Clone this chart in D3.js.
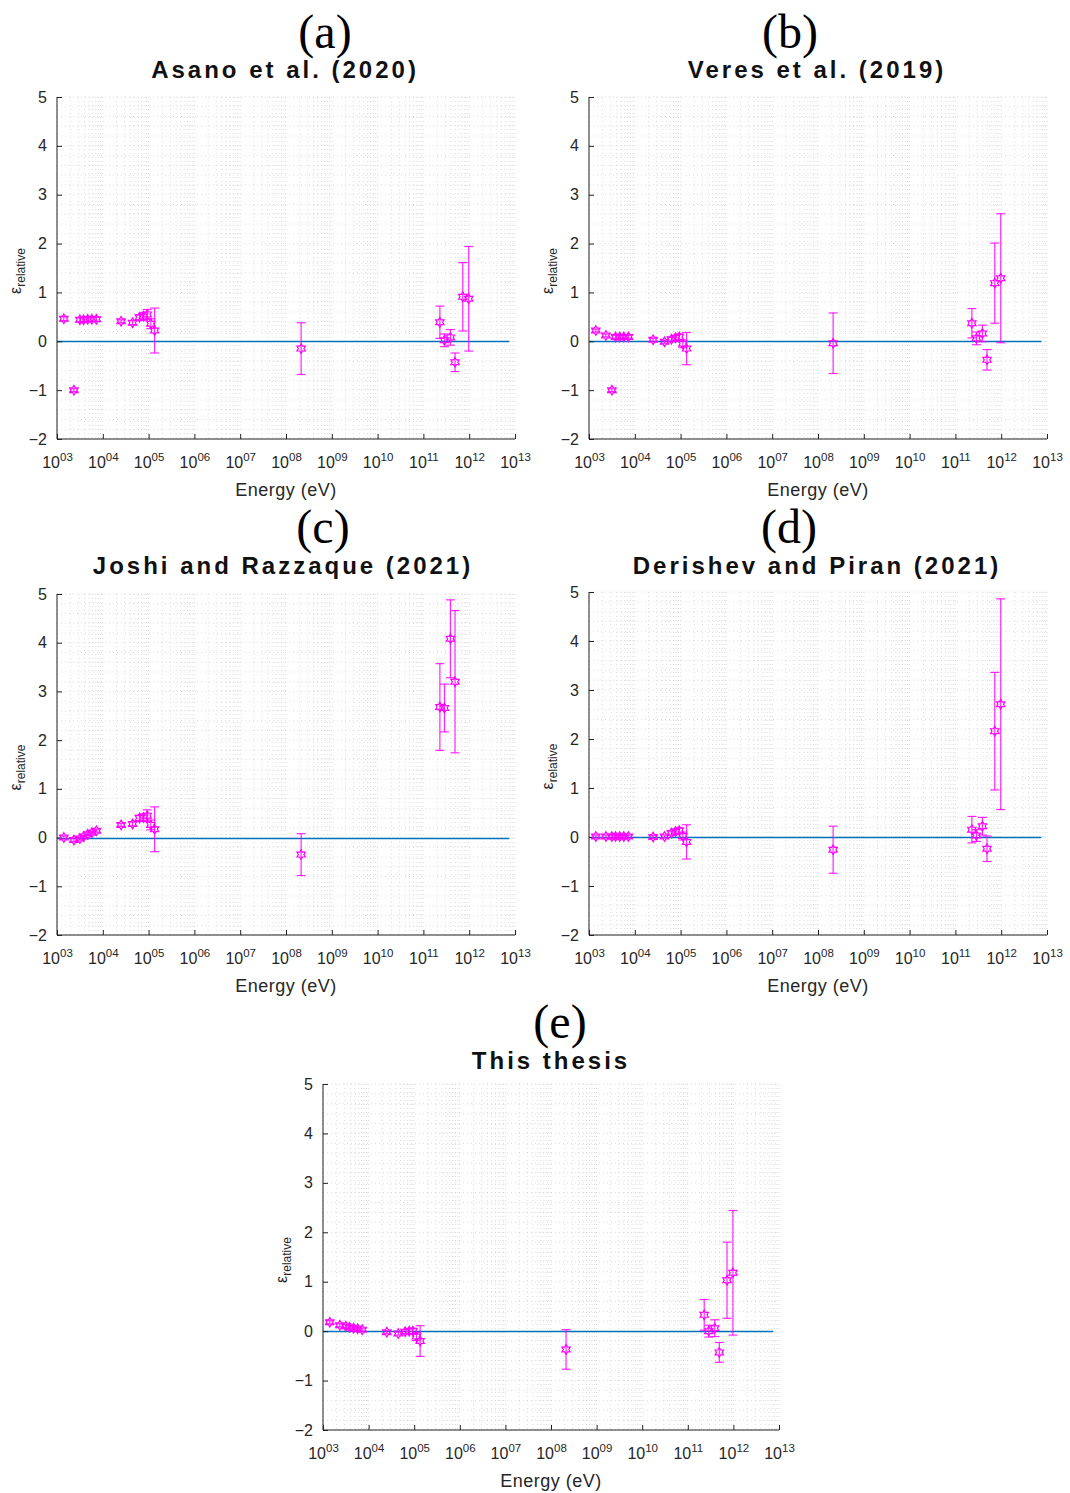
<!DOCTYPE html>
<html>
<head>
<meta charset="utf-8">
<script src="https://cdn.jsdelivr.net/npm/d3@7"></script>
<style>
  html, body { margin: 0; padding: 0; background: #fff; }
  svg { display: block; }
</style>
</head>
<body>
<svg id="fig" width="1070" height="1493"></svg>
<script>
// Photon energies of the observed points (eV)
const energies = [1.41e3, 2.34e3, 3.16e3, 3.80e3, 4.68e3, 5.75e3, 7.24e3,
  2.51e4, 4.47e4, 6.31e4, 7.76e4, 9.33e4, 1.12e5, 1.35e5,
  2.14e8,
  2.29e11, 2.88e11, 3.89e11, 4.90e11, 7.24e11, 9.77e11];

// Relative error of each model, with its symmetric uncertainty
const epsAsano = [0.46, -1.00, 0.44, 0.44, 0.45, 0.45, 0.45,
  0.41, 0.38, 0.49, 0.51, 0.55, 0.36, 0.22,
  -0.15,
  0.39, 0.02, 0.08, -0.43, 0.91, 0.87];
const errAsano = [0.04, 0.03, 0.04, 0.04, 0.04, 0.04, 0.04,
  0.03, 0.04, 0.05, 0.08, 0.10, 0.10, 0.46,
  0.53,
  0.33, 0.13, 0.16, 0.19, 0.70, 1.07];

const epsVeres = [0.22, 0.12, -1.00, 0.09, 0.09, 0.09, 0.09,
  0.03, -0.01, 0.04, 0.07, 0.09, -0.05, -0.15,
  -0.04,
  0.37, 0.06, 0.16, -0.38, 1.19, 1.29];
const errVeres = [0.03, 0.03, 0.03, 0.03, 0.03, 0.03, 0.03,
  0.03, 0.03, 0.04, 0.05, 0.06, 0.08, 0.33,
  0.62,
  0.30, 0.13, 0.17, 0.21, 0.82, 1.32];

const epsJoshi = [0.00, -0.05, -0.02, 0.02, 0.07, 0.10, 0.14,
  0.26, 0.28, 0.40, 0.41, 0.45, 0.26, 0.17,
  -0.35,
  2.68, 2.66, 4.08, 3.20, null, null];
const errJoshi = [0.03, 0.03, 0.03, 0.03, 0.03, 0.03, 0.03,
  0.03, 0.04, 0.06, 0.08, 0.12, 0.10, 0.46,
  0.43,
  0.89, 0.49, 0.80, 1.46, null, null];

const epsDerishev = [0.01, 0.01, 0.01, 0.01, 0.01, 0.01, 0.01,
  0.00, 0.01, 0.08, 0.11, 0.13, 0.02, -0.10,
  -0.26,
  0.15, 0.03, 0.22, -0.24, 2.16, 2.71];
const errDerishev = [0.03, 0.03, 0.03, 0.03, 0.03, 0.03, 0.03,
  0.03, 0.03, 0.04, 0.05, 0.06, 0.08, 0.35,
  0.48,
  0.27, 0.12, 0.18, 0.26, 1.20, 2.15];

const epsThesis = [0.18, 0.12, 0.10, 0.08, 0.06, 0.05, 0.03,
  -0.02, -0.05, -0.01, 0.00, 0.00, -0.11, -0.20,
  -0.37,
  0.33, 0.00, 0.06, -0.43, 1.03, 1.18];
const errThesis = [0.03, 0.03, 0.03, 0.03, 0.03, 0.03, 0.03,
  0.03, 0.03, 0.04, 0.05, 0.06, 0.08, 0.31,
  0.40,
  0.31, 0.12, 0.17, 0.20, 0.77, 1.26];

// Axis ticks
const xTicks = [1e3, 1e4, 1e5, 1e6, 1e7, 1e8, 1e9, 1e10, 1e11, 1e12, 1e13];
const yTicks = [-2, -1, 0, 1, 2, 3, 4, 5];
const xDomain = [1e3, 1e13];
const yDomain = [-2, 5];

// Panels: letter, title, data and placement of the plot box
const panels = [
  { letter: "(a)", title: "Asano et al. (2020)", eps: epsAsano, err: errAsano,
    box: [57, 97, 515, 439], letterX: 325, letterY: 48, titleX: 285, titleY: 78 },
  { letter: "(b)", title: "Veres et al. (2019)", eps: epsVeres, err: errVeres,
    box: [589, 97, 1047, 439], letterX: 790, letterY: 48, titleX: 817, titleY: 78 },
  { letter: "(c)", title: "Joshi and Razzaque (2021)", eps: epsJoshi, err: errJoshi,
    box: [57, 594, 515, 935], letterX: 323, letterY: 543, titleX: 283, titleY: 574 },
  { letter: "(d)", title: "Derishev and Piran (2021)", eps: epsDerishev, err: errDerishev,
    box: [589, 592, 1047, 935], letterX: 789, letterY: 543, titleX: 817, titleY: 574 },
  { letter: "(e)", title: "This thesis", eps: epsThesis, err: errThesis,
    box: [323, 1084, 779, 1430], letterX: 560, letterY: 1038, titleX: 551, titleY: 1069 }
];

const svg = d3.select("#fig");
const MAG = "#ff00ff";

// Six-pointed star outline centred on (0,0)
function hexagram(r) {
  const ri = r / Math.sqrt(3);
  const pts = [];
  for (let i = 0; i < 12; i++) {
    const a = -Math.PI / 2 + i * Math.PI / 6;
    const rr = i % 2 === 0 ? r : ri;
    pts.push([rr * Math.cos(a), rr * Math.sin(a)]);
  }
  return "M" + pts.map(p => p[0].toFixed(2) + "," + p[1].toFixed(2)).join("L") + "Z";
}

panels.forEach(p => {
  const [x0, y0, x1, y1] = p.box;
  const x = d3.scaleLog().domain(xDomain).range([x0, x1]);
  const y = d3.scaleLinear().domain(yDomain).range([y1, y0]);
  const g = svg.append("g");

  // minor + major dotted grid
  const grid = g.append("g").attr("stroke", "#c4c4c4").attr("stroke-width", 0.6)
    .attr("stroke-dasharray", "1,3");
  const vLines = [];
  for (let d = 3; d < 13; d++) {
    for (let k = 1; k < 10; k++) vLines.push(k * Math.pow(10, d));
  }
  vLines.push(1e13);
  grid.selectAll("line.v").data(vLines).join("line")
    .attr("x1", d => x(d)).attr("x2", d => x(d))
    .attr("y1", y0).attr("y2", y1);
  const hLines = d3.range(-2, 5.001, 0.2);
  grid.selectAll("line.h").data(hLines).join("line")
    .attr("x1", x0).attr("x2", x1)
    .attr("y1", d => y(d)).attr("y2", d => y(d));

  // zero reference line, snapped to the pixel grid
  const yz = Math.round(y(0)) + 0.5;
  g.append("line")
    .attr("x1", x(1e3)).attr("x2", x(7.5e12))
    .attr("y1", yz).attr("y2", yz)
    .attr("stroke", "#0072BD").attr("stroke-width", 1.3);

  // axes (left + bottom) with inward ticks
  const yAxis = d3.axisLeft(y).tickValues(yTicks).tickSize(-5).tickPadding(10)
    .tickFormat(d3.format("d"));
  const ya = g.append("g").attr("transform", `translate(${x0},0)`).call(yAxis);
  ya.select(".domain").attr("stroke", "#222").attr("d", `M0,${y0}V${y1}`);
  ya.selectAll(".tick line").attr("stroke", "#222");
  ya.selectAll(".tick text").attr("font-family", "Liberation Sans, Arial, sans-serif")
    .attr("font-size", 16).attr("fill", "#262626");

  const xAxis = d3.axisBottom(x).tickValues(xTicks).tickSize(-5).tickPadding(12)
    .tickFormat(() => "");
  const xa = g.append("g").attr("transform", `translate(0,${y1})`).call(xAxis);
  xa.select(".domain").attr("stroke", "#222").attr("d", `M${x0},0H${x1}`);
  xa.selectAll(".tick line").attr("stroke", "#222");
  xa.selectAll(".tick text").remove();
  const xl = xa.selectAll(".tick").append("text")
    .attr("y", 29).attr("text-anchor", "middle")
    .attr("font-family", "Liberation Sans, Arial, sans-serif").attr("fill", "#262626");
  xl.append("tspan").attr("font-size", 16).text("10");
  xl.append("tspan").attr("font-size", 11.5).attr("dy", -7)
    .text(d => String(Math.round(Math.log10(d))).padStart(2, "0"));

  // axis labels
  g.append("text")
    .attr("x", (x0 + x1) / 2).attr("y", y1 + 57).attr("text-anchor", "middle")
    .attr("font-family", "Liberation Sans, Arial, sans-serif").attr("font-size", 18)
    .attr("letter-spacing", 0.5)
    .attr("fill", "#262626").text("Energy (eV)");
  const yl = g.append("text")
    .attr("transform", `translate(${x0 - 36},${(y0 + y1) / 2 + 3}) rotate(-90)`)
    .attr("text-anchor", "middle")
    .attr("font-family", "Liberation Sans, Arial, sans-serif").attr("fill", "#262626");
  yl.append("tspan").attr("font-size", 16).text("ε");
  yl.append("tspan").attr("font-size", 12).attr("dy", 4).text("relative");

  // panel letter + title
  g.append("text").attr("x", p.letterX).attr("y", p.letterY).attr("text-anchor", "middle")
    .attr("font-family", "Liberation Serif, DejaVu Serif, serif").attr("font-size", 48)
    .attr("fill", "#000").text(p.letter);
  g.append("text").attr("x", p.titleX).attr("y", p.titleY).attr("text-anchor", "middle")
    .attr("font-family", "Liberation Sans, Arial, sans-serif").attr("font-size", 24)
    .attr("font-weight", "bold").attr("letter-spacing", 3.0)
    .attr("fill", "#111").text(p.title);

  // error bars + markers
  const pts = energies.map((e, i) => ({ e, v: p.eps[i], s: p.err[i] }))
    .filter(d => d.v !== null);
  const eb = g.append("g").attr("stroke", MAG).attr("stroke-width", 1.2)
    .attr("stroke-opacity", 0.85).attr("fill", "none");
  const cap = 4.5;
  pts.forEach(d => {
    const cx = x(d.e), yt = y(d.v + d.s), yb = y(d.v - d.s);
    eb.append("line").attr("x1", cx).attr("x2", cx).attr("y1", yt).attr("y2", yb);
    eb.append("line").attr("x1", cx - cap).attr("x2", cx + cap).attr("y1", yt).attr("y2", yt);
    eb.append("line").attr("x1", cx - cap).attr("x2", cx + cap).attr("y1", yb).attr("y2", yb);
  });
  g.append("g").selectAll("path").data(pts).join("path")
    .attr("d", hexagram(4.8))
    .attr("transform", d => `translate(${x(d.e)},${y(d.v)})`)
    .attr("fill", "none").attr("stroke", MAG).attr("stroke-width", 1.2);
});
</script>
</body>
</html>
